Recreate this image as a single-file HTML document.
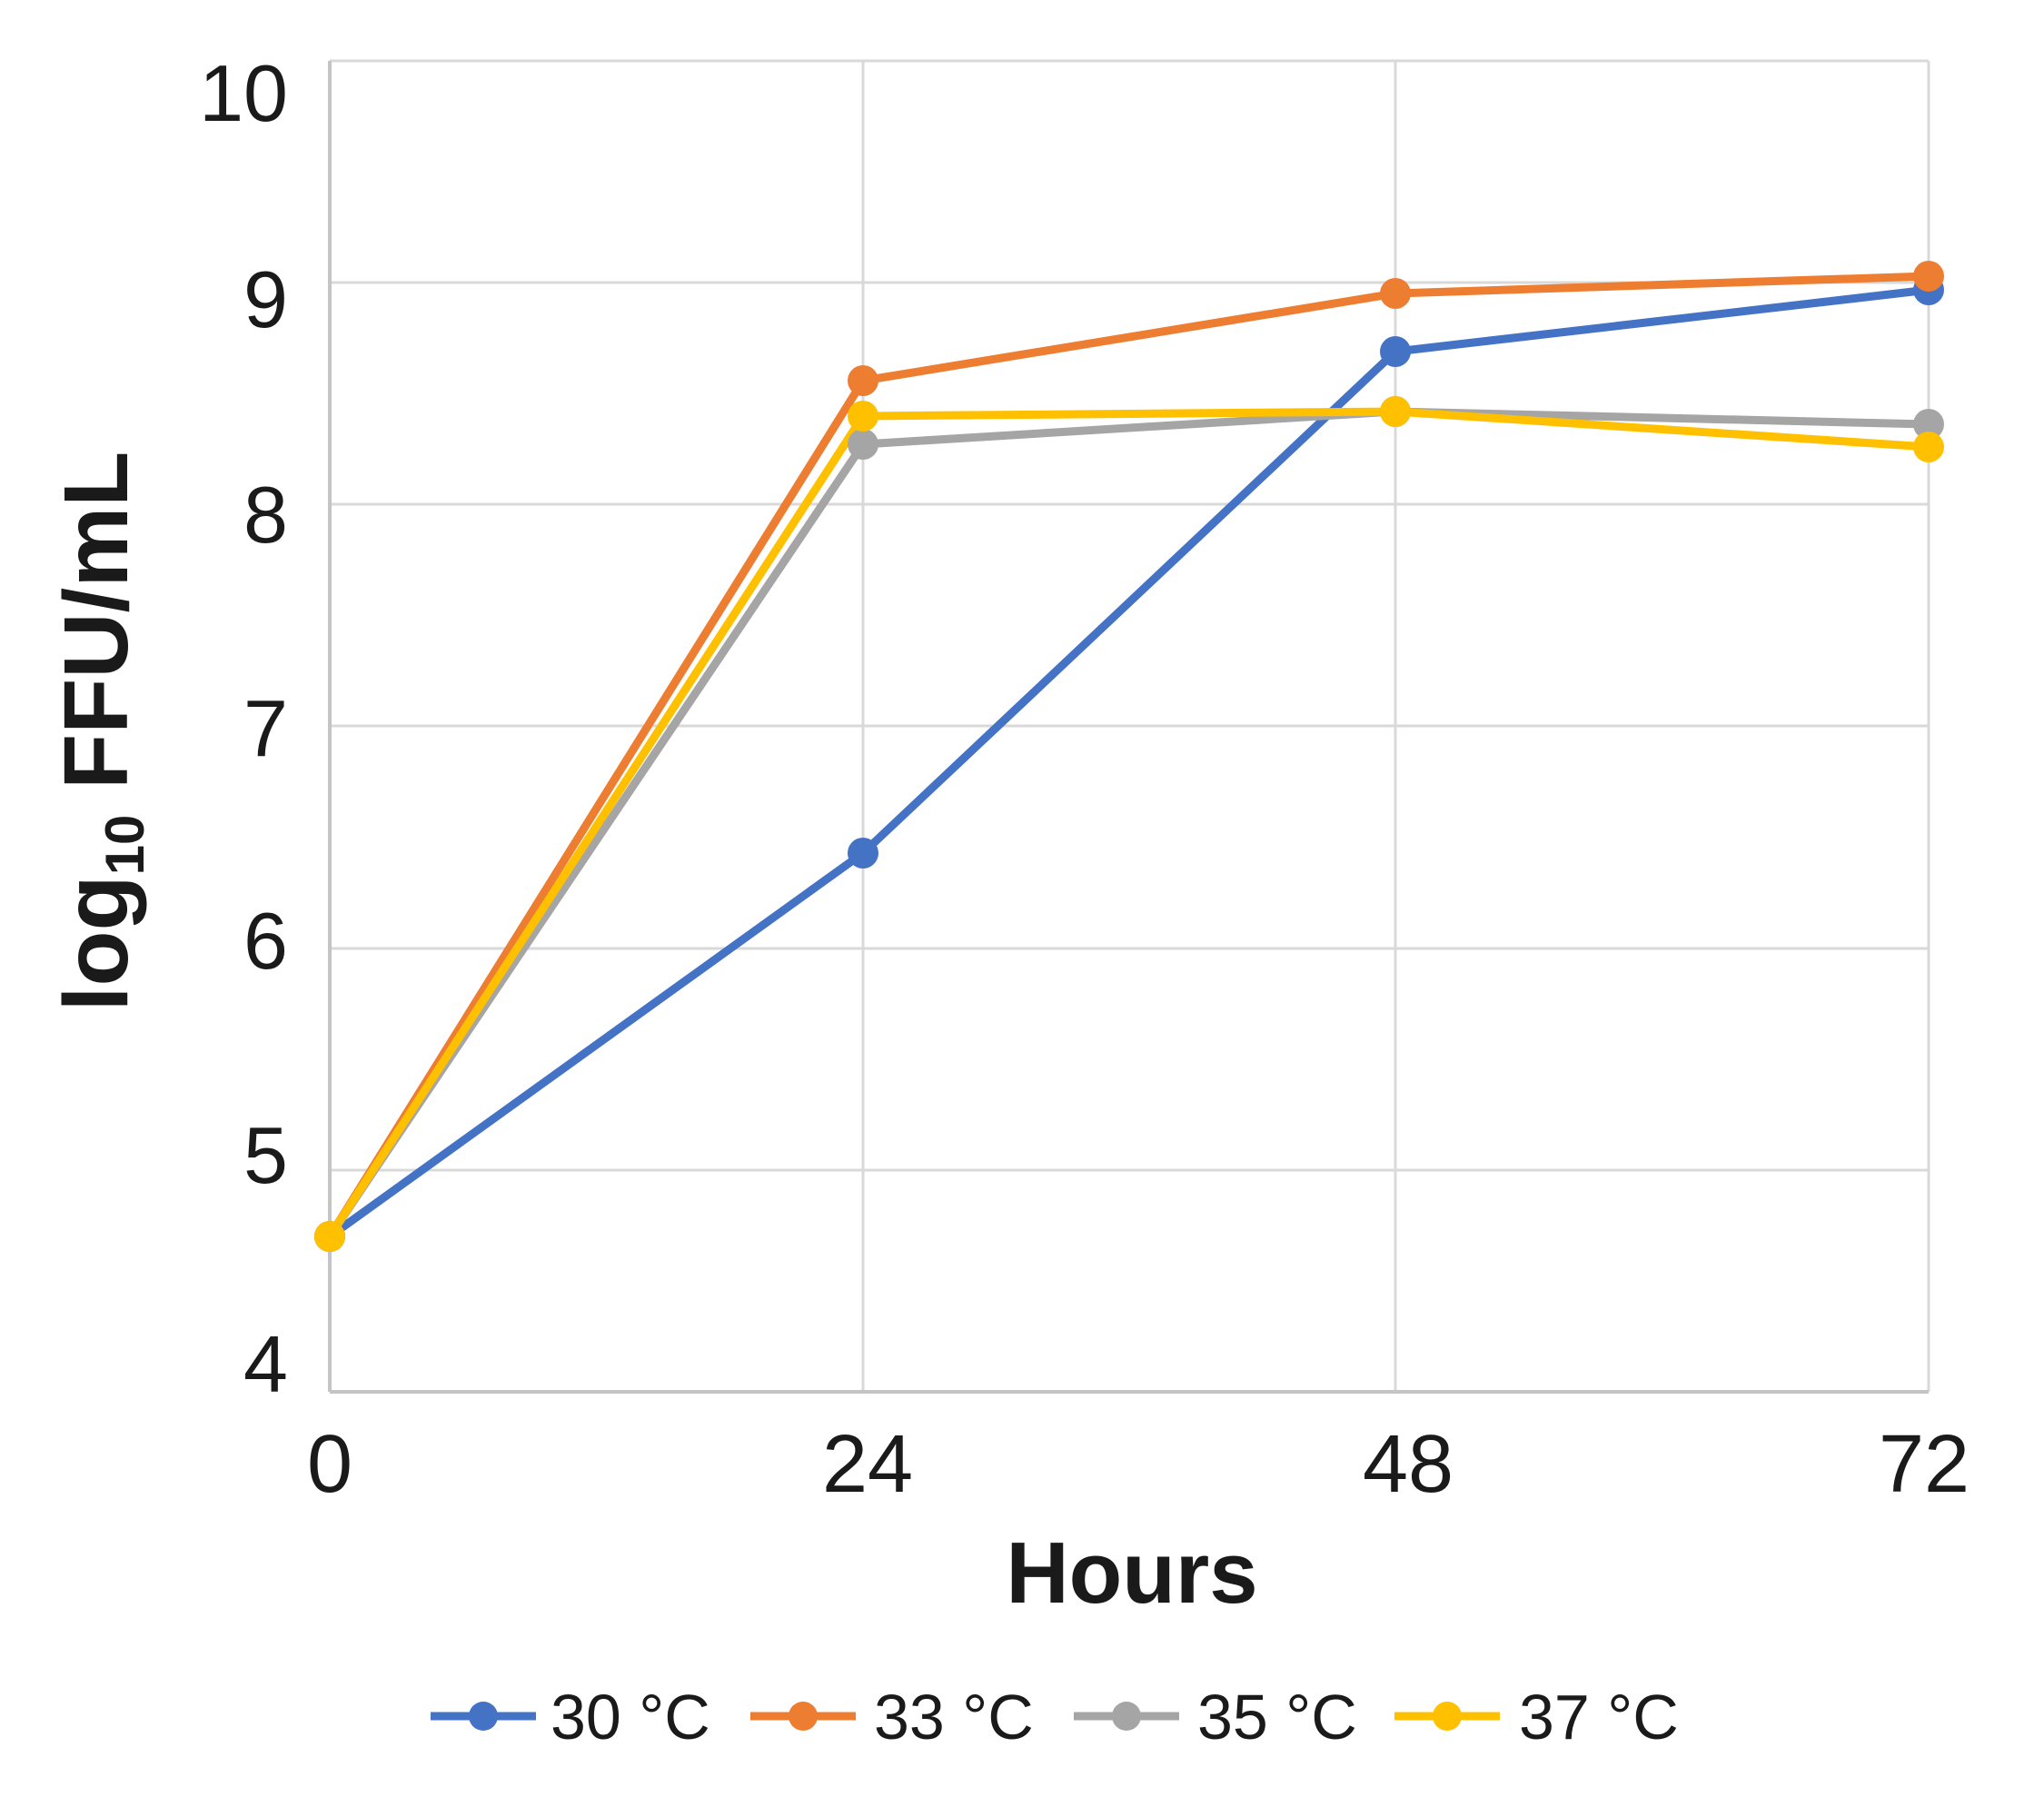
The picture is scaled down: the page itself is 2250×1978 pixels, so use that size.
<!DOCTYPE html>
<html><head><style>html,body{margin:0;padding:0;background:#fff;}svg{display:block;}</style></head>
<body>
<svg width="2250" height="1978" viewBox="0 0 2250 1978" xmlns="http://www.w3.org/2000/svg" font-family="Liberation Sans, sans-serif">
<g stroke="#d9d9d9" stroke-width="3" fill="none">
<line x1="363" y1="67" x2="2123" y2="67"/>
<line x1="363" y1="311" x2="2123" y2="311"/>
<line x1="363" y1="555" x2="2123" y2="555"/>
<line x1="363" y1="799" x2="2123" y2="799"/>
<line x1="363" y1="1044" x2="2123" y2="1044"/>
<line x1="363" y1="1288" x2="2123" y2="1288"/>
<line x1="950" y1="67" x2="950" y2="1532"/>
<line x1="1536" y1="67" x2="1536" y2="1532"/>
<line x1="2123" y1="67" x2="2123" y2="1532"/>
</g>
<g stroke="#c4c4c4" stroke-width="4"><line x1="363" y1="67" x2="363" y2="1532"/><line x1="363" y1="1532" x2="2123" y2="1532"/></g>
<g font-size="88" fill="#1a1a1a" text-anchor="end">
<text x="317" y="133">10</text><text x="317" y="360">9</text><text x="317" y="597">8</text><text x="317" y="832">7</text><text x="317" y="1066">6</text><text x="317" y="1302">5</text><text x="317" y="1532">4</text>
</g>
<g font-size="90" fill="#1a1a1a" text-anchor="middle">
<text x="363" y="1642">0</text><text x="955" y="1642">24</text><text x="1550" y="1642">48</text><text x="2118" y="1642">72</text>
</g>
<text x="1246" y="1764" font-size="96" font-weight="bold" text-anchor="middle" fill="#1a1a1a">Hours</text>
<text transform="translate(140,805) rotate(-90)" font-size="100" font-weight="bold" text-anchor="middle" fill="#1a1a1a">log<tspan font-size="60" dy="18">10</tspan><tspan dy="-18"> FFU/mL</tspan></text>
<g stroke-width="9" fill="none" stroke-linejoin="round">
<polyline stroke="#4472c4" points="363,1361 950,939 1536,387 2123,319"/>
<polyline stroke="#ed7d31" points="363,1361 950,419 1536,323 2123,304"/>
<polyline stroke="#a5a5a5" points="363,1361 950,489 1536,453 2123,467"/>
<polyline stroke="#ffc000" points="363,1361 950,458 1536,453 2123,492"/>
</g>
<g fill="#4472c4"><circle cx="363" cy="1361" r="17"/><circle cx="950" cy="939" r="17"/><circle cx="1536" cy="387" r="17"/><circle cx="2123" cy="319" r="17"/></g>
<g fill="#ed7d31"><circle cx="363" cy="1361" r="17"/><circle cx="950" cy="419" r="17"/><circle cx="1536" cy="323" r="17"/><circle cx="2123" cy="304" r="17"/></g>
<g fill="#a5a5a5"><circle cx="363" cy="1361" r="17"/><circle cx="950" cy="489" r="17"/><circle cx="1536" cy="453" r="17"/><circle cx="2123" cy="467" r="17"/></g>
<g fill="#ffc000"><circle cx="363" cy="1361" r="17"/><circle cx="950" cy="458" r="17"/><circle cx="1536" cy="453" r="17"/><circle cx="2123" cy="492" r="17"/></g>
<g stroke-width="9">
<line x1="474" y1="1889" x2="590" y2="1889" stroke="#4472c4"/><circle cx="532" cy="1889" r="16" fill="#4472c4" stroke="none"/>
<line x1="826" y1="1889" x2="942" y2="1889" stroke="#ed7d31"/><circle cx="884" cy="1889" r="16" fill="#ed7d31" stroke="none"/>
<line x1="1182" y1="1889" x2="1298" y2="1889" stroke="#a5a5a5"/><circle cx="1240" cy="1889" r="16" fill="#a5a5a5" stroke="none"/>
<line x1="1535" y1="1889" x2="1651" y2="1889" stroke="#ffc000"/><circle cx="1593" cy="1889" r="16" fill="#ffc000" stroke="none"/>
</g>
<g font-size="70" fill="#1a1a1a">
<text x="606" y="1914">30 °C</text><text x="962" y="1914">33 °C</text><text x="1318" y="1914">35 °C</text><text x="1672" y="1914">37 °C</text>
</g>
</svg>
</body></html>
